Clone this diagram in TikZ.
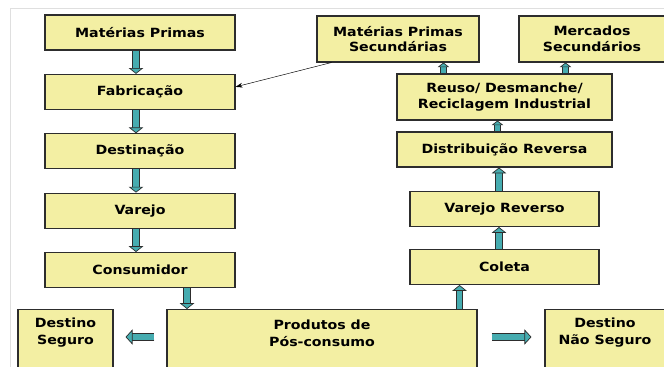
\documentclass[tikz,border=0pt]{standalone}
\usepackage{fontspec}
\newfontfamily\boxfont[FakeStretch=1.12]{DejaVu Sans}
\usetikzlibrary{arrows.meta, positioning, calc}
\definecolor{boxyellow}{RGB}{243,239,163}
\definecolor{flowteal}{RGB}{70,172,176}
\definecolor{edgegray}{RGB}{45,45,45}

\tikzset{
  stage/.style={draw=edgegray, line width=0.9pt, fill=boxyellow, align=center,
    font=\boxfont\bfseries\fontsize{10.8}{13.5}\selectfont, inner sep=0pt},
  boxlabel/.style={align=center, font=\boxfont\bfseries\fontsize{10.8}{14.5}\selectfont},
  flow/.style={line width=5pt, draw=flowteal,
    -{Triangle[length=5pt, width=12.5pt, line width=0.6pt, fill=flowteal, color=edgegray]},
    preaction={draw=edgegray, line width=6.6pt, arrows=-, shorten >=4pt}},
  smallflow/.style={line width=4pt, draw=flowteal,
    -{Triangle[length=4pt, width=10pt, line width=0.6pt, fill=flowteal, color=edgegray]},
    preaction={draw=edgegray, line width=5.6pt, arrows=-, shorten >=3pt}},
  sideflow/.style={line width=5.5pt, draw=flowteal,
    -{Triangle[length=6pt, width=13pt, line width=0.6pt, fill=flowteal, color=edgegray]},
    preaction={draw=edgegray, line width=7.1pt, arrows=-, shorten >=5pt}},
}

\begin{document}
\begin{tikzpicture}[x=0.3mm, y=-0.3mm, node distance=7mm]
  \useasboundingbox (0,0) rectangle (664,367);
  \clip (0,0) rectangle (664,367);
  \draw[gray!25] (10,367) -- (10,8) -- (664,8);

  % forward chain
  \node[stage, minimum width=57mm, minimum height=10.5mm] (mp) at (140,32.5) {Matérias Primas};
  \node[stage, minimum width=57mm, minimum height=10.5mm, below=of mp] (fab) {Fabricação};
  \node[stage, minimum width=57mm, minimum height=10.5mm, below=of fab] (dest) {Destinação};
  \node[stage, minimum width=57mm, minimum height=10.5mm, below=of dest] (var) {Varejo};
  \node[stage, minimum width=57mm, minimum height=10.5mm, below=of var] (cons) {Consumidor};

  % bottom row
  \node[stage, anchor=north, minimum width=28.5mm, minimum height=25mm] (seguro) at (65.5,309) {};
  \node[stage, anchor=north, minimum width=93mm, minimum height=25mm] (pos) at (322,309) {};
  \node[stage, anchor=north, minimum width=36mm, minimum height=25mm] (naoseg) at (605,309) {};
  \node[boxlabel] (seguro-txt) at ($(seguro.north)+(0,24)$) {Destino\\Seguro};
  \node[boxlabel] (pos-txt) at ($(pos.north)+(0,24)$) {Produtos de\\Pós-consumo};
  \node[boxlabel] (naoseg-txt) at ($(naoseg.north)+(0,24)$) {Destino\\Não Seguro};

  % reverse chain
  \node[stage, minimum width=56.7mm, minimum height=10.5mm] (coleta) at (504.5,267) {Coleta};
  \node[stage, minimum width=56.7mm, minimum height=10.5mm] (varrev) at (504.5,209) {Varejo Reverso};
  \node[stage, minimum width=64.5mm, minimum height=10.5mm] (distr) at (504.5,149.5) {Distribuição Reversa};
  \node[stage, minimum width=64.5mm, minimum height=13.8mm] (reuso) at (504.5,97) {Reuso/ Desmanche/\\Reciclagem Industrial};
  \node[stage, minimum width=48.6mm, minimum height=13.8mm] (mps) at (398,39) {Matérias Primas\\Secundárias};
  \node[stage, minimum width=43.8mm, minimum height=13.8mm] (merc) at (592,39) {Mercados\\Secundários};

  % flows
  \draw[flow] ($(mp.south)+(-4,0)$) -- ($(fab.north)+(-4,0)$);
  \draw[flow] ($(fab.south)+(-4,0)$) -- ($(dest.north)+(-4,0)$);
  \draw[flow] ($(dest.south)+(-4,0)$) -- ($(var.north)+(-4,0)$);
  \draw[flow] ($(var.south)+(-4,0)$) -- ($(cons.north)+(-4,0)$);
  \coordinate (consout) at ($(cons.south)+(47,0)$);
  \draw[flow] (consout) -- (consout |- pos.north);
  \coordinate (posout) at ($(pos.north east)+(-18,0)$);
  \draw[flow] (posout) -- (posout |- coleta.south);
  \draw[flow] ($(coleta.north)+(-5.5,0)$) -- ($(varrev.south)+(-5.5,0)$);
  \draw[flow] ($(varrev.north)+(-5.5,0)$) -- ($(distr.south)+(-5.5,0)$);
  \draw[smallflow] ($(distr.north)+(-7,0)$) -- ($(reuso.south)+(-7,0)$);
  \coordinate (reusoleft) at ($(reuso.north west)+(47,0)$);
  \coordinate (reusoright) at ($(reuso.north east)+(-47,0)$);
  \draw[smallflow] (reusoleft) -- (reusoleft |- mps.south);
  \draw[smallflow] (reusoright) -- (reusoright |- merc.south);
  \draw[sideflow] ($(pos.north west)+(-12,28)$) -- ($(seguro.north east)+(12,28)$);
  \draw[sideflow] ($(pos.north east)+(14,28)$) -- ($(naoseg.north west)+(-13,28)$);

  % secondary raw materials back to production
  \draw[thin, -{Stealth[length=6pt, width=4pt]}] ($(mps.south west)+(15,0)$) -- ($(fab.east)+(0,-5)$);
\end{tikzpicture}
\end{document}
